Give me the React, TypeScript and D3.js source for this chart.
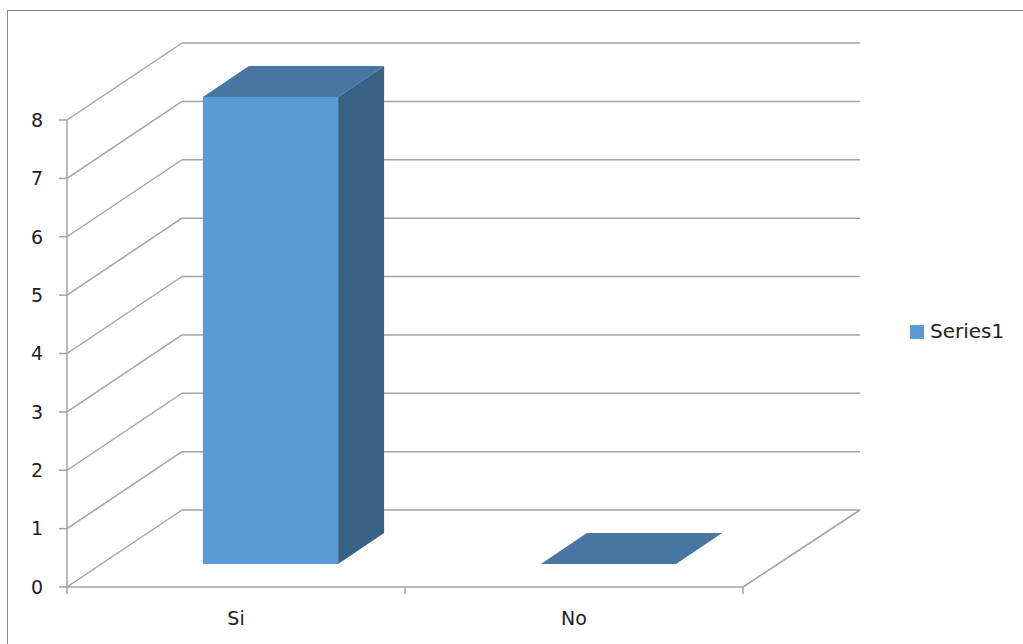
import React from "react";
import * as d3 from "d3";

const categories = ["Si", "No"];
const values = [8, 0];
const yTicks = [0, 1, 2, 3, 4, 5, 6, 7, 8];
const seriesName = "Series1";

const W = 1023;
const H = 644;

export default function App() {
  const x = d3.scaleBand<string>().domain(categories).range([67, 743]);
  const y = d3.scaleLinear().domain([0, 8]).range([587, 120]);
  const DX = 115;
  const DY = -77;
  const d0 = 0.3;
  const d1 = 0.7;
  const grid = "#a3a3a3";
  const font = "'DejaVu Sans', sans-serif";
  const bw = x.bandwidth() * 0.4;

  const pts = (a: [number, number][]) => a.map((p) => p.join(",")).join(" ");

  return (
    <svg
      width={W}
      height={H}
      style={{ position: "absolute", left: 0, top: 0, background: "#fff" }}
    >
      <rect x={7.5} y={10.5} width={1100} height={700} fill="#fff" stroke="#8a8a8a" strokeWidth={1} />
      {yTicks.map((t) => (
        <g key={t}>
          <line x1={67} y1={y(t)} x2={67 + DX} y2={y(t) + DY} stroke={grid} strokeWidth={1.5} />
          <line x1={67 + DX} y1={y(t) + DY} x2={860} y2={y(t) + DY} stroke={grid} strokeWidth={1.5} />
          <line x1={59} y1={y(t)} x2={67} y2={y(t)} stroke={grid} strokeWidth={1.5} />
          <text
            x={43}
            y={y(t)}
            dy="0.36em"
            textAnchor="end"
            fontFamily={font}
            fontSize={19}
            fill="#1e1e1e"
          >
            {t}
          </text>
        </g>
      ))}
      <line x1={67} y1={y(0)} x2={743} y2={y(0)} stroke={grid} strokeWidth={1.5} />
      <line x1={743} y1={y(0)} x2={743 + DX + 2} y2={y(0) + DY} stroke={grid} strokeWidth={1.5} />
      <line x1={67} y1={y(8)} x2={67} y2={y(0)} stroke={grid} strokeWidth={1.5} />
      {[67, 405, 743].map((cx) => (
        <line key={cx} x1={cx} y1={y(0)} x2={cx} y2={y(0) + 7} stroke={grid} strokeWidth={1.5} />
      ))}
      {categories.map((c) => (
        <text
          key={c}
          x={(x(c) as number) + x.bandwidth() / 2}
          y={625}
          textAnchor="middle"
          fontFamily={font}
          fontSize={19}
          fill="#1e1e1e"
        >
          {c}
        </text>
      ))}
      {categories.map((c, i) => {
        const v = values[i];
        const cx = (x(c) as number) + x.bandwidth() / 2;
        const xl = cx - bw / 2;
        const xr = cx + bw / 2;
        const fx = d0 * DX;
        const fy = d0 * DY;
        const bx = d1 * DX;
        const by = d1 * DY;
        const yt = y(v);
        const yb = y(0);
        const front: [number, number][] = [
          [xl + fx, yt + fy],
          [xr + fx, yt + fy],
          [xr + fx, yb + fy],
          [xl + fx, yb + fy],
        ];
        const top: [number, number][] = [
          [xl + fx, yt + fy],
          [xl + bx, yt + by],
          [xr + bx, yt + by],
          [xr + fx, yt + fy],
        ];
        const side: [number, number][] = [
          [xr + fx, yt + fy],
          [xr + bx, yt + by],
          [xr + bx, yb + by],
          [xr + fx, yb + fy],
        ];
        return (
          <g key={c}>
            {v > 0 && <polygon points={pts(side)} fill="#386387" />}
            {v > 0 && <polygon points={pts(front)} fill="#5b9bd5" />}
            <polygon points={pts(top)} fill="#4676a1" />
          </g>
        );
      })}
      <rect x={910} y={325} width={14} height={14} fill="#5b9bd5" />
      <text x={930} y={338} fontFamily={font} fontSize={20} fill="#1e1e1e">
        {seriesName}
      </text>
    </svg>
  );
}
